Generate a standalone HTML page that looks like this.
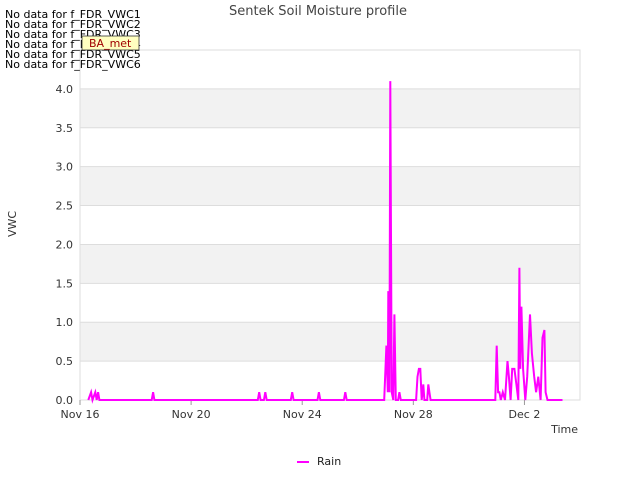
<!DOCTYPE html>
<html><head><meta charset="utf-8"><style>
body{margin:0;background:#fff;font-family:"Liberation Sans","DejaVu Sans",sans-serif;}
svg text{font-family:"DejaVu Sans","Liberation Sans",sans-serif;}
</style></head><body>
<svg id="chart" width="640" height="480">
<text x="318" y="15" text-anchor="middle" font-size="13" fill="#444">Sentek Soil Moisture profile</text>
<g id="bands"></g>
<g id="grid"></g>
<g id="axes"></g>
<polyline id="rain" fill="none" stroke="#ff00ff" stroke-width="2"/>
<text x="16" y="224" transform="rotate(-90 16 224)" text-anchor="middle" font-size="11" fill="#333">VWC</text>
<text x="578" y="433" text-anchor="end" font-size="11" fill="#333">Time</text>
<g><line x1="297" y1="462" x2="309" y2="462" stroke="#ff00ff" stroke-width="2"/><text x="317" y="465" font-size="11" fill="#222">Rain</text></g>
<g font-size="11" fill="#000">
<text x="5" y="18">No data for f_FDR_VWC1</text>
<text x="5" y="28">No data for f_FDR_VWC2</text>
<text x="5" y="38">No data for f_FDR_VWC3</text>
<text x="5" y="48">No data for f_FDR_VWC4</text>
<text x="5" y="58">No data for f_FDR_VWC5</text>
<text x="5" y="68">No data for f_FDR_VWC6</text>
</g>
<g><rect x="82" y="36" width="57" height="14" fill="#ffffc0" stroke="#333" stroke-width="0.8"/><text x="89" y="47" font-size="11" fill="#a00000">BA_met</text></g>
</svg>
<script>
const xTickLabels=["Nov 16","Nov 20","Nov 24","Nov 28","Dec 2"];
const xTickDays=[0,4,8,12,16];
const yTicks=[0,0.5,1,1.5,2,2.5,3,3.5,4];
const rainDays=[0.3,0.4,0.45,0.55,0.6,0.65,0.7,2.58,2.63,2.68,6.4,6.45,6.5,6.62,6.67,6.72,7.59,7.64,7.69,8.55,8.6,8.65,9.5,9.55,9.6,10.95,11.03,11.08,11.1,11.14,11.17,11.22,11.28,11.32,11.37,11.45,11.5,11.55,12.1,12.15,12.2,12.25,12.3,12.36,12.4,12.5,12.54,12.58,12.62,14.95,15.0,15.05,15.1,15.15,15.22,15.3,15.39,15.44,15.5,15.56,15.64,15.71,15.78,15.82,15.85,15.89,15.95,16.03,16.1,16.2,16.27,16.35,16.42,16.5,16.58,16.65,16.72,16.76,16.83,16.9,17.37];
const rainVals=[0,0.1,0,0.1,0,0.1,0,0,0.1,0,0,0.1,0,0,0.1,0,0,0.1,0,0,0.1,0,0,0.1,0,0,0.7,0.1,1.4,0.1,4.1,0.1,0,1.1,0,0,0.1,0,0,0.3,0.4,0.4,0,0.2,0,0,0.2,0.1,0,0,0.7,0.1,0.1,0,0.1,0,0.5,0.3,0,0.4,0.4,0.2,0,1.7,0.4,1.2,0.4,0,0.3,1.1,0.6,0.3,0.1,0.3,0,0.8,0.9,0.1,0,0,0];
const X0=80,X1=580,Y0=400,Y1=50,DMAX=18,VMAX=4.5;
const sx=d=>X0+d/DMAX*(X1-X0), sy=v=>Y0-v/VMAX*(Y0-Y1);
const NS="http://www.w3.org/2000/svg";
const bands=document.getElementById('bands'),grid=document.getElementById('grid'),axes=document.getElementById('axes');
for(let i=0;i<9;i++){const r=document.createElementNS(NS,'rect');r.setAttribute('x',X0);r.setAttribute('width',X1-X0);r.setAttribute('y',sy((i+1)*0.5));r.setAttribute('height',sy(i*0.5)-sy((i+1)*0.5));r.setAttribute('fill',i%2?'#f2f2f2':'#fff');


bands.appendChild(r);}
const fr=document.createElementNS(NS,'rect');fr.setAttribute('x',X0);fr.setAttribute('y',Y1);fr.setAttribute('width',X1-X0);fr.setAttribute('height',Y0-Y1);fr.setAttribute('fill','none');fr.setAttribute('stroke','#ddd');


grid.appendChild(fr);
yTicks.forEach(v=>{const l=document.createElementNS(NS,'line');l.setAttribute('x1',X0);l.setAttribute('x2',X1);l.setAttribute('y1',sy(v));l.setAttribute('y2',sy(v));l.setAttribute('stroke','#ddd');


grid.appendChild(l);
const t=document.createElementNS(NS,'text');t.setAttribute('x',X0-7);t.setAttribute('y',sy(v)+4);t.setAttribute('text-anchor','end');t.setAttribute('font-size','11');t.setAttribute('fill','#333');t.textContent=v.toFixed(1);


axes.appendChild(t);});
xTickDays.forEach((d,i)=>{const l=document.createElementNS(NS,'line');l.setAttribute('x1',sx(d));l.setAttribute('x2',sx(d));l.setAttribute('y1',Y0);l.setAttribute('y2',Y0+5);l.setAttribute('stroke','#999');


axes.appendChild(l);
const t=document.createElementNS(NS,'text');t.setAttribute('x',sx(d));t.setAttribute('y',Y0+18);t.setAttribute('text-anchor','middle');t.setAttribute('font-size','11');t.setAttribute('fill','#333');t.textContent=xTickLabels[i];


axes.appendChild(t);});
document.getElementById('rain').setAttribute('points',rainDays.map((d,i)=>sx(d).toFixed(1)+','+sy(rainVals[i]).toFixed(1)).join(' '));
</script>
</body></html>
